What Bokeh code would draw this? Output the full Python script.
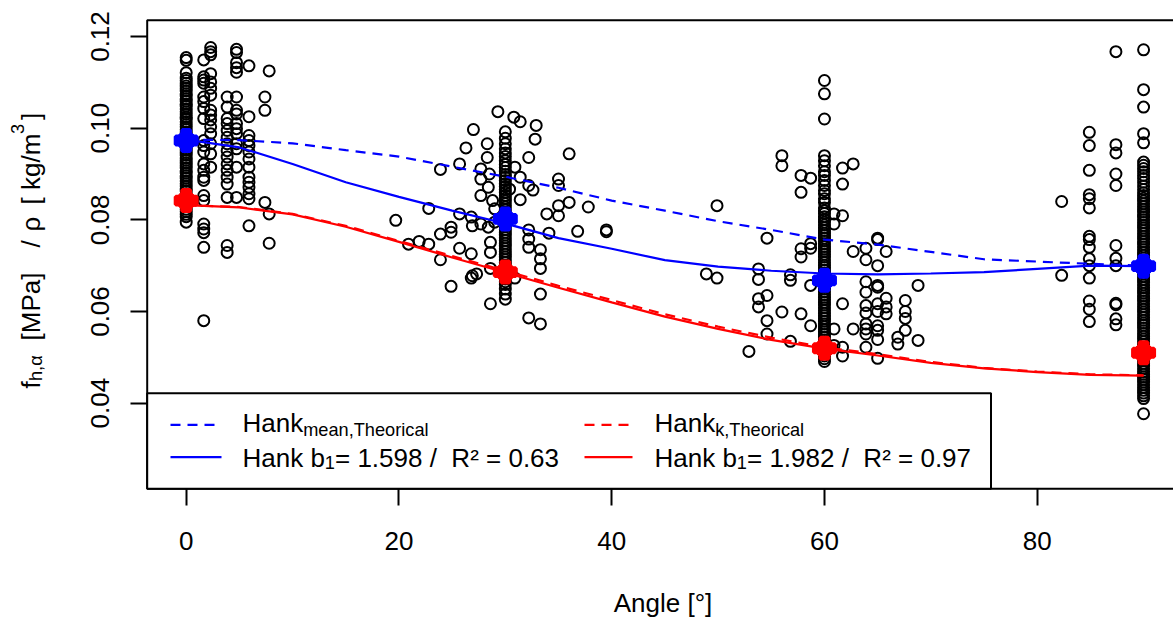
import numpy as np
from bokeh.plotting import figure
from bokeh.models import Range1d, FixedTicker, NumeralTickFormatter, Label
from bokeh.embed import file_html
from bokeh.resources import INLINE

# ---------------- data ----------------
col0_vals = [0.1154, 0.1148, 0.1121, 0.1109, 0.1104, 0.1098, 0.1092, 0.1087, 0.1081, 0.1075, 0.1070,
             0.1064, 0.1059, 0.1052, 0.1048, 0.1042, 0.1036, 0.1031, 0.1024, 0.1020, 0.1014, 0.1008,
             0.1003, 0.0997, 0.0991, 0.0986, 0.0980, 0.0975, 0.0969, 0.0963, 0.0958, 0.0952, 0.0947,
             0.0941, 0.0935, 0.0930, 0.0924, 0.0919, 0.0913, 0.0907, 0.0902, 0.0896, 0.0891, 0.0885,
             0.0879, 0.0874, 0.0868, 0.0863, 0.0857, 0.0851, 0.0846, 0.0840, 0.0835, 0.0829, 0.0823,
             0.0818, 0.0812, 0.0807, 0.0795]
near0_ang = [1.65] * 22 + [2.3] * 15 + [3.85] * 16 + [4.73] * 15 + [5.9] * 14 + [7.4] * 3 + [7.8] * 3
near0_val = [0.1149, 0.1112, 0.1105, 0.1098, 0.1068, 0.1058, 0.1043, 0.1021, 0.0973, 0.0962, 0.0948,
             0.0922, 0.0908, 0.0893, 0.0886, 0.0853, 0.0842, 0.0791, 0.0780, 0.0772, 0.0740, 0.0580,
             0.1176, 0.1167, 0.1160, 0.1119, 0.1101, 0.1087, 0.1072, 0.1039, 0.1029, 0.1018, 0.1003,
             0.0988, 0.0966, 0.0944, 0.0915,
             0.1068, 0.1046, 0.1021, 0.1010, 0.0995, 0.0980, 0.0966, 0.0951, 0.0937, 0.0922, 0.0908,
             0.0893, 0.0878, 0.0849, 0.0744, 0.0729,
             0.1172, 0.1165, 0.1143, 0.1132, 0.1122, 0.1068, 0.1039, 0.1031, 0.1010, 0.0999, 0.0988,
             0.0966, 0.0955, 0.0915, 0.0849,
             0.1136, 0.1025, 0.0984, 0.0973, 0.0962, 0.0948, 0.0933, 0.0915, 0.0893, 0.0882, 0.0871,
             0.0857, 0.0846, 0.0787,
             0.1068, 0.1039, 0.0838,
             0.1125, 0.0813, 0.0749]

col30_vals = [0.0992, 0.0978, 0.0966, 0.0955, 0.0946, 0.0938, 0.0929, 0.0921, 0.0914, 0.0906, 0.0899,
              0.0893, 0.0886, 0.0879, 0.0873, 0.0866, 0.0860, 0.0853, 0.0847, 0.0841, 0.0835, 0.0828,
              0.0822, 0.0816, 0.0810, 0.0804, 0.0797, 0.0791, 0.0785, 0.0779, 0.0773, 0.0767, 0.0761,
              0.0755, 0.0749, 0.0743, 0.0737, 0.0731, 0.0725, 0.0719, 0.0713, 0.0707, 0.0701, 0.0695,
              0.0689, 0.0683, 0.0677, 0.0671, 0.0665, 0.0659, 0.0649, 0.0638, 0.0627]
near30_ang = [19.7, 20.9, 21.9, 22.8, 22.8, 23.9, 23.9, 23.9, 24.9, 24.9, 24.9, 25.7, 25.7, 25.7, 26.3,
              26.8, 26.8, 26.8, 26.9, 26.9, 27.0, 27.3, 27.7, 27.7, 27.7, 27.7, 28.3, 28.3, 28.4, 28.4,
              28.5, 28.6, 28.6, 28.6, 28.6, 28.8, 29.0, 29.0, 29.3, 30.4, 30.8, 30.9, 30.9, 31.4, 31.4,
              31.4, 32.2, 32.2, 32.2, 32.2, 32.2, 32.2, 32.6, 32.8, 32.9, 33.3, 33.3, 33.3, 33.3, 33.3,
              33.9, 34.1, 35.0, 35.0, 35.0, 35.0, 36.0, 36.0, 36.8, 37.8, 39.5, 39.5]
near30_val = [0.0799, 0.0747, 0.0753, 0.0747, 0.0825, 0.0910, 0.0769, 0.0713, 0.0784, 0.0773, 0.0655,
              0.0922, 0.0813, 0.0738, 0.0957, 0.0806, 0.0726, 0.0673, 0.0787, 0.0678, 0.0997, 0.0682,
              0.0911, 0.0889, 0.0853, 0.0791, 0.0966, 0.0936, 0.0871, 0.0784, 0.0900, 0.0751, 0.0729,
              0.0694, 0.0617, 0.0842, 0.0824, 0.0795, 0.1036, 0.0867, 0.1024, 0.0915, 0.0673, 0.1014,
              0.0893, 0.0844, 0.0936, 0.0875, 0.0778, 0.0758, 0.0740, 0.0586, 0.0865, 0.0976, 0.1006,
              0.0735, 0.0715, 0.0694, 0.0638, 0.0573, 0.0813, 0.0771, 0.0889, 0.0875, 0.0831, 0.0809,
              0.0944, 0.0838, 0.0775, 0.0828, 0.0778, 0.0774]

col60_vals = [0.1104, 0.1075, 0.1020, 0.0940, 0.0929, 0.0918, 0.0905, 0.0897, 0.0886, 0.0875, 0.0864,
              0.0857, 0.0846, 0.0838, 0.0826, 0.0820, 0.0814, 0.0807, 0.0801, 0.0795, 0.0789, 0.0783,
              0.0777, 0.0771, 0.0766, 0.0760, 0.0754, 0.0748, 0.0742, 0.0736, 0.0731, 0.0725, 0.0719,
              0.0713, 0.0707, 0.0701, 0.0696, 0.0690, 0.0684, 0.0678, 0.0672, 0.0666, 0.0661, 0.0655,
              0.0649, 0.0643, 0.0637, 0.0631, 0.0626, 0.0620, 0.0614, 0.0608, 0.0602, 0.0596, 0.0591,
              0.0585, 0.0579, 0.0573, 0.0567, 0.0561, 0.0556, 0.0550, 0.0544, 0.0538, 0.0532, 0.0526,
              0.0521, 0.0515, 0.0509, 0.0503, 0.0497, 0.0491]
near60_ang = [48.9, 49.9, 49.9, 52.9, 53.8, 53.8, 53.8, 53.8, 54.6, 54.6, 54.6, 54.6, 56.0, 56.0, 56.0,
              56.8, 56.8, 56.8, 57.8, 57.8, 57.8, 57.8, 57.8, 58.7, 58.7, 58.7, 58.7, 58.7, 60.9, 60.9,
              60.9, 60.9, 61.7, 61.7, 61.7, 61.7, 61.7, 61.7, 62.7, 62.7, 62.7, 63.9, 63.9, 63.9, 63.9,
              63.9, 63.9, 63.9, 63.9, 63.9, 63.9, 65.0, 65.0, 65.0, 65.0, 65.0, 65.0, 65.0, 65.0, 65.0,
              65.0, 65.0, 65.8, 65.8, 65.8, 65.8, 66.9, 66.9, 67.6, 67.6, 67.6, 67.6, 68.8, 68.8]
near60_val = [0.0682, 0.0831, 0.0673, 0.0513, 0.0693, 0.0670, 0.0628, 0.0610, 0.0760, 0.0635, 0.0580,
              0.0551, 0.0940, 0.0918, 0.0599, 0.0680, 0.0668, 0.0535, 0.0897, 0.0860, 0.0737, 0.0719,
              0.0595, 0.0891, 0.0748, 0.0738, 0.0657, 0.0569, 0.0813, 0.0791, 0.0562, 0.0526, 0.0913,
              0.0878, 0.0809, 0.0617, 0.0522, 0.0503, 0.0922, 0.0731, 0.0562, 0.0738, 0.0713, 0.0665,
              0.0642, 0.0613, 0.0597, 0.0573, 0.0562, 0.0551, 0.0522, 0.0760, 0.0757, 0.0700, 0.0657,
              0.0653, 0.0617, 0.0600, 0.0569, 0.0559, 0.0539, 0.0498, 0.0731, 0.0629, 0.0610, 0.0595,
              0.0544, 0.0529, 0.0624, 0.0600, 0.0585, 0.0559, 0.0657, 0.0537]

col90_vals = [0.1171, 0.1084, 0.1046, 0.0988, 0.0968, 0.0926, 0.0919, 0.0912, 0.0905, 0.0897, 0.0890,
              0.0882, 0.0874, 0.0866, 0.0859, 0.0853, 0.0847, 0.0841, 0.0835, 0.0829, 0.0823, 0.0817,
              0.0811, 0.0806, 0.0800, 0.0794, 0.0788, 0.0782, 0.0776, 0.0770, 0.0764, 0.0758, 0.0752,
              0.0747, 0.0741, 0.0735, 0.0729, 0.0723, 0.0717, 0.0711, 0.0705, 0.0699, 0.0693, 0.0688,
              0.0682, 0.0676, 0.0670, 0.0664, 0.0658, 0.0652, 0.0646, 0.0640, 0.0634, 0.0629, 0.0623,
              0.0617, 0.0611, 0.0605, 0.0599, 0.0593, 0.0587, 0.0581, 0.0575, 0.0570, 0.0564, 0.0558,
              0.0552, 0.0546, 0.0540, 0.0534, 0.0528, 0.0522, 0.0516, 0.0511, 0.0505, 0.0499, 0.0493,
              0.0487, 0.0481, 0.0475, 0.0469, 0.0463, 0.0457, 0.0452, 0.0446, 0.0440, 0.0434, 0.0428,
              0.0422, 0.0416, 0.0410, 0.0377]
near90_ang = [82.3, 82.3] + [84.9] * 15 + [87.4] * 12
near90_val = [0.0840, 0.0679,
              0.0991, 0.0962, 0.0908, 0.0855, 0.0846, 0.0826, 0.0764, 0.0757, 0.0740, 0.0715, 0.0700,
              0.0673, 0.0623, 0.0605, 0.0578,
              0.1167, 0.0964, 0.0946, 0.0900, 0.0875, 0.0744, 0.0716, 0.0700, 0.0618, 0.0615, 0.0584,
              0.0571]

curve_angle = [0, 5, 10, 15, 20, 25, 30, 35, 40, 45, 50, 55, 60, 65, 70, 75, 80, 85, 90]
hank_mean_theo = [0.0975, 0.0974, 0.0967, 0.0952, 0.0938, 0.0916, 0.0894, 0.0870, 0.0842, 0.0820,
                  0.0797, 0.0778, 0.0757, 0.0746, 0.0730, 0.0714, 0.0709, 0.0704, 0.0700]
hank_mean_fit = [0.0975, 0.0958, 0.0922, 0.0882, 0.0850, 0.0820, 0.0792, 0.0760, 0.0737, 0.0712,
                 0.0698, 0.0689, 0.0683, 0.0681, 0.0683, 0.0686, 0.0693, 0.0700, 0.0699]
hank_k_theo = [0.0832, 0.0828, 0.0813, 0.0787, 0.0754, 0.0721, 0.0689, 0.0656, 0.0625, 0.0594,
               0.0567, 0.0543, 0.0522, 0.0507, 0.0490, 0.0477, 0.0469, 0.0463, 0.0461]
hank_k_fit = [0.0832, 0.0827, 0.0812, 0.0785, 0.0752, 0.0718, 0.0685, 0.0652, 0.0620, 0.0589,
              0.0562, 0.0538, 0.0519, 0.0504, 0.0488, 0.0476, 0.0468, 0.0462, 0.0460]

marker_angle = [0, 30, 60, 90]
mean_vals = [0.0973, 0.0802, 0.0668, 0.0699]
k_vals = [0.0842, 0.0686, 0.0520, 0.0510]

x_ticks = [0, 20, 40, 60, 80]
y_ticks = [0.04, 0.06, 0.08, 0.10, 0.12]
legend_labels = [("Hank", "mean,Theorical"), ("Hank", "k,Theorical")]
legend_fit = [("1.598", "0.63"), ("1.982", "0.97")]

# ---------------- layout (canvas == frame; the R plot box is drawn inside) ----------------
FONT = "Liberation Sans"
FS = 26
SUB = 18.2
W, H = 1173, 619
PXU_X = 10.6375            # pixels per degree
PXU_Y = 4583.75            # pixels per unit of y
X_ZERO_PX = 185.7          # pixel of angle 0
Y_012_PX = 36.0            # pixel of y = 0.12
X0 = -X_ZERO_PX / PXU_X
X1 = X0 + W / PXU_X
Y1 = 0.12 + Y_012_PX / PXU_Y
Y0 = Y1 - H / PXU_Y
BOX_L, BOX_T, BOX_B = 146.7, 19.7, 488.3   # plot box edges (pixels)
BOX_R = 1181.6
TDY = 11.0                 # correction between requested and drawn text baseline


def dx(px):
    return X0 + px / PXU_X


def dy(py):
    return Y1 - py / PXU_Y


def sy(py):
    return H - py


NB = "\u00a0"
CW = {' ': 278, NB: 278, 'f': 278, 'h': 556, ',': 278, 'α': 578, '[': 278, ']': 278, 'M': 833,
      'P': 667, 'a': 556, '/': 278, 'ρ': 578, 'k': 500, 'g': 556, 'm': 833, '3': 556, 'H': 722,
      'n': 556, 'b': 556, '1': 556}


def tw(s, fs):
    return sum(CW.get(c, 556) for c in s) / 1000.0 * fs


p = figure(width=W, height=H, output_backend="svg", toolbar_location=None,
           x_range=Range1d(X0, X1), y_range=Range1d(Y0, Y1), min_border=0)
p.grid.visible = False
p.outline_line_color = None
p.background_fill_color = "white"
p.border_fill_color = "white"

for ax in (p.xaxis[0], p.yaxis[0]):
    ax.major_tick_out = 17
    ax.major_tick_in = 0
    ax.minor_tick_line_color = None
    ax.axis_line_color = None
    ax.major_tick_line_width = 2
    ax.major_tick_line_color = "black"
    ax.major_label_text_font = FONT
    ax.major_label_text_font_size = f"{FS}px"
    ax.major_label_text_color = "black"

p.xaxis[0].ticker = FixedTicker(ticks=x_ticks)
p.xaxis[0].fixed_location = dy(BOX_B)
p.xaxis[0].major_label_standoff = 26
p.yaxis[0].ticker = FixedTicker(ticks=y_ticks)
p.yaxis[0].formatter = NumeralTickFormatter(format="0.00")
p.yaxis[0].major_label_orientation = "vertical"
p.yaxis[0].fixed_location = dx(BOX_L)
p.yaxis[0].major_label_standoff = 21

# plot box
p.quad(left=dx(BOX_L), right=dx(BOX_R), bottom=dy(BOX_B), top=dy(BOX_T), fill_color=None,
       line_color="black", line_width=2)

# ---------------- points ----------------
px_all = [0.0] * len(col0_vals) + near0_ang + [30.0] * len(col30_vals) + near30_ang + \
         [60.0] * len(col60_vals) + near60_ang + [90.0] * len(col90_vals) + near90_ang
py_all = col0_vals + near0_val + col30_vals + near30_val + col60_vals + near60_val + col90_vals + near90_val
p.scatter(px_all, py_all, marker="circle", size=11, fill_color=None, line_color="black", line_width=2)

# ---------------- curves ----------------
DASH = "10 7"
p.line(curve_angle, hank_mean_theo, line_color="blue", line_width=2.2, line_dash=DASH)
p.line(curve_angle, hank_mean_fit, line_color="blue", line_width=2.2)
p.line(curve_angle, hank_k_theo, line_color="red", line_width=2.2, line_dash=DASH)
p.line(curve_angle, hank_k_fit, line_color="red", line_width=2.2)

for vals, col in ((mean_vals, "blue"), (k_vals, "red")):
    p.scatter(marker_angle, vals, marker="plus", size=21, fill_color=col, line_color=col, line_width=4)
    p.scatter(marker_angle, vals, marker="circle", size=19, fill_color=col, line_color=col)

# ---------------- legend ----------------
p.quad(left=dx(BOX_L), right=dx(990.5), bottom=dy(BOX_B), top=dy(392.7), fill_color="white",
       line_color="black", line_width=2)
row1, row2 = 424.3, 456.7
cols = [(170, 221, 242, "blue"), (584, 632, 654, "red")]


def lab(x, y, text, fs, rotated=False, **kw):
    if rotated:
        x = x - TDY
        kw["angle"] = np.pi / 2
    else:
        y = y - TDY
    p.add_layout(Label(x=x, y=sy(y), x_units="screen", y_units="screen", text=text,
                       text_font=FONT, text_font_size=f"{fs}px", text_color="black",
                       text_baseline="alphabetic", **kw))


for i, (l0, l1, tx, col) in enumerate(cols):
    p.line([dx(l0), dx(l1)], [dy(row1)] * 2, line_color=col, line_width=2.2, line_dash=DASH)
    p.line([dx(l0), dx(l1)], [dy(row2)] * 2, line_color=col, line_width=2.2)
    main, sub = legend_labels[i]
    lab(tx, 433, main, FS)
    lab(tx + tw(main, FS), 440, sub, SUB)
    b1, r2 = legend_fit[i]
    lab(tx, 468, "Hank b", FS)
    xs1 = tx + tw("Hank b", FS)
    lab(xs1, 472.5, "1", SUB)
    lab(xs1 + tw("1", SUB), 468, f"= {b1} /{NB}{NB}R² = {r2}", FS)

# ---------------- axis titles ----------------
lab(662.5, 613, "Angle [°]", FS, text_align="center")

BASE_X = 41.5
ytitle = [("f", FS, 0, 388.0), ("h,α", SUB, 5, 380.5), ("[MPa]", FS, 0, 340.0),
          ("/", FS, 0, 247.0), ("ρ", FS, 0, 231.0), (f"[{NB}kg/m", FS, 0, 204.0),
          ("3", SUB, -14, 133.5), ("]", FS, 0, 119.5)]
for txt, fs, shift, t in ytitle:
    lab(BASE_X + shift, t, txt, fs, rotated=True, text_align="left")

open("out.html", "w").write(file_html(p, INLINE))
